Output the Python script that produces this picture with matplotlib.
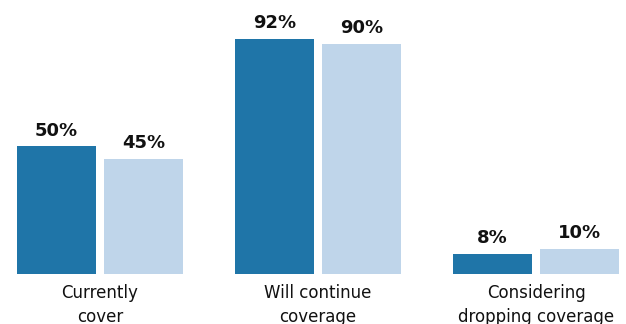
import numpy as np
import matplotlib.pyplot as plt

categories = ["Currently\ncover", "Will continue\ncoverage", "Considering\ndropping coverage"]
series_a = [50, 92, 8]
series_b = [45, 90, 10]
labels_a = ["50%", "92%", "8%"]
labels_b = ["45%", "90%", "10%"]

dark = "#1f75a8"
light = "#bfd5ea"
text_color = "#111111"

fig = plt.figure(figsize=(6.26, 3.24), dpi=100)
ax = fig.add_axes([0, 0.1528, 1, 0.8472])

x = np.arange(len(categories))
w = 79 / 218
off = 87 / 2 / 218

bars_a = ax.bar(x - off, series_a, width=w, color=dark)
bars_b = ax.bar(x + off, series_b, width=w, color=light)

for bars, labels in ((bars_a, labels_a), (bars_b, labels_b)):
    for b, lab in zip(bars, labels):
        ax.annotate(lab, (b.get_x() + b.get_width() / 2, b.get_height()),
                    xytext=(0, 5), textcoords="offset points",
                    ha="center", va="bottom", fontsize=13, fontweight="bold",
                    color=text_color)

ax.set_xticks(x)
ax.set_xticklabels(categories, fontsize=12, color=text_color, linespacing=1.4)
ax.tick_params(axis="x", length=0, pad=7)
ax.set_yticks([])
ax.set_xlim(-100 / 218, 526 / 218)
ax.set_ylim(0, 107.2)
for s in ax.spines.values():
    s.set_visible(False)

fig.savefig("out.png", dpi=100)
